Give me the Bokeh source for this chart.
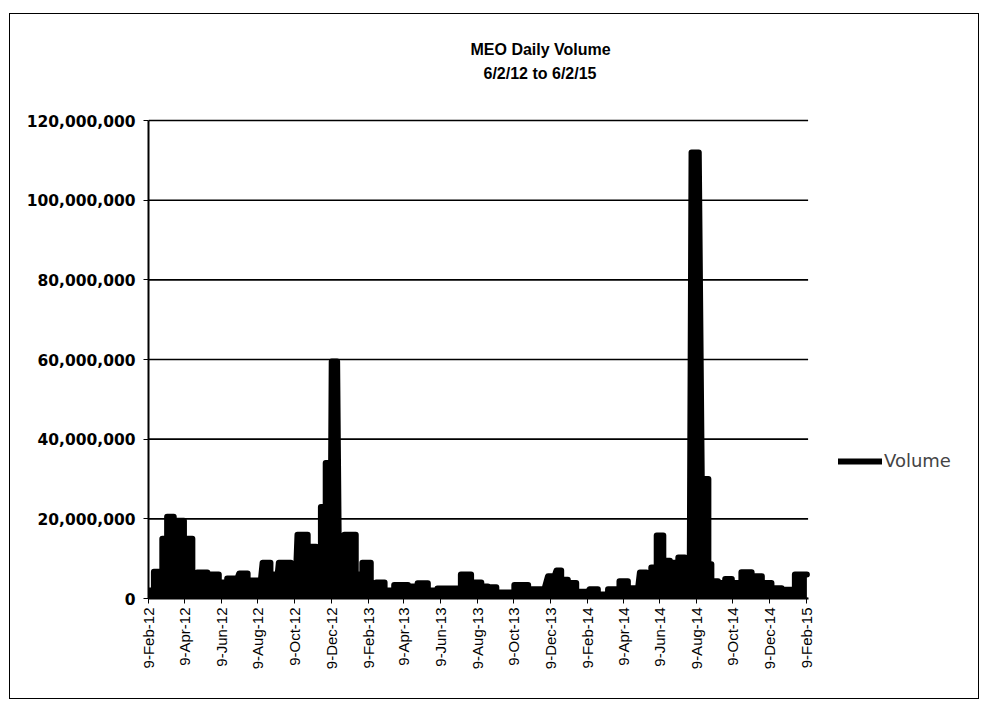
import pandas as pd
from bokeh.plotting import figure
from bokeh.models import (Range1d, FixedTicker, NumeralTickFormatter, Legend,
                          LegendItem, Title, ColumnDataSource)
from bokeh.embed import file_html
from bokeh.resources import INLINE
from math import pi

# ---- data ----
start_date = "2012-02-09"
# days since 9-Feb-2012 (start/end of each plateau of the daily volume envelope)
seg_start = [0, 9, 23, 31, 42, 59, 73, 81, 98, 117, 131, 151, 165, 190, 203, 217, 237,
             248, 265, 279, 287, 295, 305, 317, 326, 345, 356, 370, 379, 393, 409, 432,
             448, 465, 481, 520, 537, 554, 565, 579, 609, 632, 665, 679, 687, 698, 712,
             734, 748, 765, 784, 798, 818, 829, 837, 846, 857, 868, 876, 882, 893, 904,
             921, 932, 937, 948, 960, 971, 987, 1004, 1021, 1037, 1054, 1076]
seg_end = [9, 23, 31, 42, 59, 73, 81, 98, 117, 131, 148, 165, 187, 203, 215, 237, 245,
           265, 279, 287, 295, 304, 314, 326, 345, 356, 370, 379, 393, 409, 432, 448,
           465, 481, 520, 537, 554, 565, 579, 609, 632, 659, 676, 687, 698, 712, 732,
           748, 765, 784, 798, 815, 829, 837, 846, 857, 868, 876, 882, 893, 901, 916,
           932, 937, 948, 960, 971, 987, 1004, 1021, 1037, 1054, 1076, 1096]
volume_m = [2.0, 6.7, 15, 20.5, 19.5, 15, 4, 6.5, 6, 4, 5, 6.3, 4.5, 9, 6, 9, 4,
            16, 13, 7.5, 23, 34, 59.5, 8, 16, 6, 9, 3.4, 4, 2, 3.4, 3,
            3.8, 2, 2.5, 6, 4, 3, 2.8, 1.5, 3.4, 2.3, 5.6, 7, 4.7, 3.9, 1.7,
            2.3, 1.0, 2.3, 4.3, 2.6, 6.5, 1.3, 7.8, 15.8, 9.5, 9, 3, 10.3, 7.3, 112,
            30, 8.6, 4.3, 3.9, 4.9, 3.9, 6.6, 5.6, 3.9, 2.6, 2.2, 6]

tick_labels = ["9-Feb-12", "9-Apr-12", "9-Jun-12", "9-Aug-12", "9-Oct-12", "9-Dec-12",
               "9-Feb-13", "9-Apr-13", "9-Jun-13", "9-Aug-13", "9-Oct-13", "9-Dec-13",
               "9-Feb-14", "9-Apr-14", "9-Jun-14", "9-Aug-14", "9-Oct-14", "9-Dec-14",
               "9-Feb-15"]
y_ticks = [0, 20_000_000, 40_000_000, 60_000_000, 80_000_000, 100_000_000, 120_000_000]
title_lines = ["MEO Daily Volume", "6/2/12 to 6/2/15"]
series_name = "Volume"
axis_days = 1098          # length of the date axis (days shown)
y_max = 120_000_000

# ---- build data for the library ----
xs, ys = [], []
for s, e, v in zip(seg_start, seg_end, volume_m):
    xs += [s, e]
    ys += [v * 1_000_000, v * 1_000_000]
src = ColumnDataSource(dict(x=xs, y=ys))

t0 = pd.Timestamp(start_date)
tick_pos = [int((pd.to_datetime(t, format="%d-%b-%y") - t0).days) for t in tick_labels]

FONT = "Liberation Sans"

# the frame is extended to the right (legend lives outside the date axis) and
# slightly above the top gridline so that gridline is not clipped
plot_w_px, axis_w_px = 828, 658
plot_h_px, axis_h_px = 480, 476
p = figure(width=970, height=686, output_backend="svg", toolbar_location=None,
           x_range=Range1d(0, axis_days * plot_w_px / axis_w_px),
           y_range=Range1d(0, y_max * plot_h_px / axis_h_px),
           min_border_left=138, min_border_right=2, min_border_top=102,
           min_border_bottom=102)
p.margin = (13, 0, 0, 9)
p.outline_line_color = None
p.styles = {"border": "1px solid black"}

# horizontal gridlines, limited to the date axis extent
p.segment(x0=[0] * len(y_ticks), x1=[axis_days] * len(y_ticks), y0=y_ticks, y1=y_ticks,
          line_color="black", line_width=1.6)

p.varea(x="x", y1=0, y2="y", source=src, fill_color="black")
line = p.line(x="x", y="y", source=src, line_color="black", line_width=6,
              line_join="round", line_cap="round")

# axes
p.xaxis.bounds = (0, axis_days)
p.xaxis.ticker = FixedTicker(ticks=tick_pos)
p.xaxis.major_label_overrides = {pos: lab for pos, lab in zip(tick_pos, tick_labels)}
p.xaxis.major_label_orientation = pi / 2
p.xaxis.major_label_text_font = FONT
p.xaxis.major_label_text_font_size = "15px"
p.xaxis.major_label_text_color = "black"
p.xaxis.axis_line_width = 2
p.xaxis.major_tick_out = 5
p.xaxis.major_tick_in = 0
p.xaxis.minor_tick_line_color = None
p.xaxis.major_label_standoff = 4

p.yaxis.bounds = (0, y_max)
p.yaxis.ticker = FixedTicker(ticks=y_ticks)
p.yaxis.formatter = NumeralTickFormatter(format="0,0")
p.yaxis.major_label_text_font = "DejaVu Sans"
p.yaxis.major_label_text_font_size = "15.5px"
p.yaxis.major_label_text_font_style = "bold"
p.yaxis.major_label_text_color = "black"
p.yaxis.axis_line_width = 2
p.yaxis.major_tick_out = 5
p.yaxis.major_tick_in = 0
p.yaxis.minor_tick_line_color = None
p.yaxis.major_label_standoff = 8

p.xgrid.grid_line_color = None
p.ygrid.grid_line_color = None

# title: two lines, panels added nearest-to-plot first (spacer, subtitle, title)
spacer = Title(text=" ", text_font=FONT, text_font_size="16px", standoff=13)
t_sub = Title(text=title_lines[1], align="left", offset=335,
              text_font=FONT, text_font_style="bold", text_font_size="16px",
              text_color="black", standoff=5)
t_main = Title(text=title_lines[0], align="left", offset=322,
               text_font=FONT, text_font_style="bold", text_font_size="16px",
               text_color="black", standoff=5)
p.add_layout(spacer, "above")
p.add_layout(t_sub, "above")
p.add_layout(t_main, "above")

legend = Legend(items=[LegendItem(label=series_name, renderers=[line])],
                location=(690, 127), glyph_width=44, glyph_height=20,
                label_standoff=2, padding=0, margin=0, spacing=0,
                border_line_color=None, background_fill_alpha=0,
                label_text_font="DejaVu Sans", label_text_font_size="18px")
p.add_layout(legend)

open("out.html", "w").write(file_html(p, INLINE))
